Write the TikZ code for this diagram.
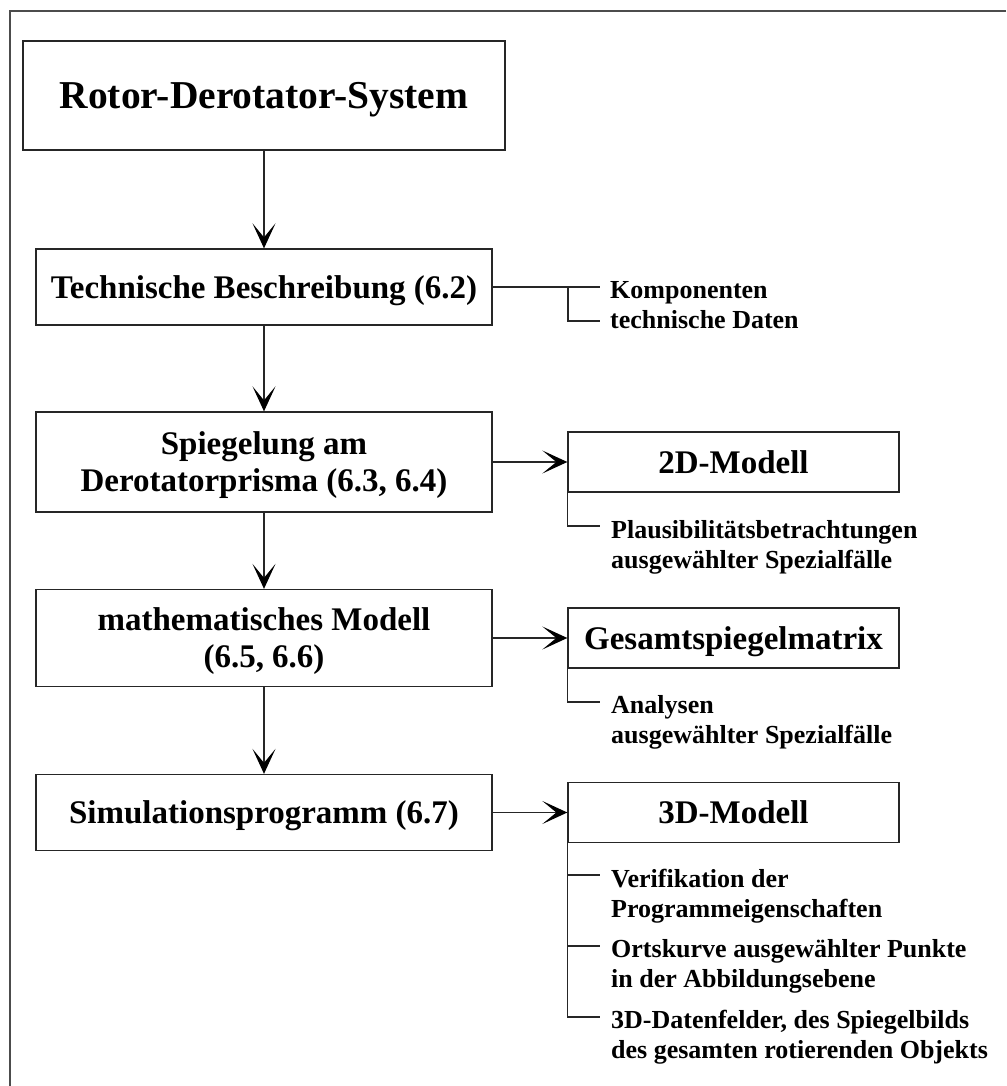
\documentclass[tikz,border=0pt]{standalone}
\usepackage{fontspec}
\setmainfont{Liberation Serif}
\usetikzlibrary{arrows.meta,calc}
\begin{document}
\begin{tikzpicture}[x=1pt,y=-1pt,
  box/.style={draw=black!85, line width=1.3pt, inner sep=0pt, align=center,
              text depth=0pt, font=\fontsize{33}{37}\selectfont\bfseries},
  sidebox/.style={box, minimum width=331pt, minimum height=60pt},
  mainbox/.style={box, minimum width=456pt},
  conn/.style={draw=black!85, line width=1.3pt},
  arr/.style={conn, -{Stealth[length=25pt,width=23pt,inset=14pt,black]}},
  note/.style={anchor=base west, inner sep=0pt,
               font=\fontsize{26}{30}\selectfont\bfseries}
]
\useasboundingbox (0,0) rectangle (1006,1086);

% page frame (top and left rule)
\draw[black!70, line width=1.5pt] (1006,11) -- (10,11) -- (10,1086);

% main chain
\node[box, minimum width=482pt, minimum height=109pt,
      font=\fontsize{39.5}{44}\selectfont\bfseries] (sys) at (264,95.5) {Rotor-Derotator-System};
\node[mainbox, minimum height=76pt] (tech) at (264,287) {Technische Beschreibung (6.2)};
\node[mainbox, minimum height=100pt] (spieg) at (264,462) {Spiegelung am\\Derotatorprisma (6.3, 6.4)};
\node[mainbox, minimum height=97pt] (math) at (264,638) {mathematisches Modell\\(6.5, 6.6)};
\node[mainbox, minimum height=76pt] (sim) at (264,812.5) {Simulationsprogramm (6.7)};

% result boxes
\node[sidebox] (m2d) at (733.5,462) {2D-Modell};
\node[sidebox] (gsm) at (733.5,638) {Gesamtspiegelmatrix};
\node[sidebox] (m3d) at (733.5,812.5) {3D-Modell};

% arrows
\draw[arr] (sys.south) -- (tech.north);
\draw[arr] (tech.south) -- (spieg.north);
\draw[arr] (spieg.south) -- (math.north);
\draw[arr] (math.south) -- (sim.north);
\draw[arr] (spieg.east) -- (m2d.west);
\draw[arr] (math.east) -- (gsm.west);
\draw[arr] (sim.east) -- (m3d.west);

% branch ends
\coordinate (kb) at (568,287);
\coordinate (k1) at (600,287);
\coordinate (k2) at (600,321);
\coordinate (p1) at (600,526);
\coordinate (a1) at (600,702);
\coordinate (v1) at (600,875);
\coordinate (o1) at (600,946);
\coordinate (d1) at (600,1017);

% branch lines
\draw[conn] (tech.east) -- (k1);
\draw[conn] (kb) |- (k2);
\draw[conn] (m2d.south west) |- (p1);
\draw[conn] (gsm.south west) |- (a1);
\draw[conn] (m3d.south west) |- (d1);
\draw[conn] (m3d.south west |- v1) -- (v1);
\draw[conn] (m3d.south west |- o1) -- (o1);

% annotations
\node[note] (komp) at ($(k1)+(10,11)$) {\begin{tabular}[t]{@{}l@{}}Komponenten\\technische Daten\end{tabular}};
\node[note] (plaus) at ($(p1)+(11,12)$) {\begin{tabular}[t]{@{}l@{}}Plausibilitätsbetrachtungen\\ausgewählter Spezialfälle\end{tabular}};
\node[note] (anal) at ($(a1)+(11,11)$) {\begin{tabular}[t]{@{}l@{}}Analysen\\ausgewählter Spezialfälle\end{tabular}};
\node[note] (verif) at ($(v1)+(11,12)$) {\begin{tabular}[t]{@{}l@{}}Verifikation der\\Programmeigenschaften\end{tabular}};
\node[note] (ort) at ($(o1)+(11,11)$) {\begin{tabular}[t]{@{}l@{}}Ortskurve ausgewählter Punkte\\in der Abbildungsebene\end{tabular}};
\node[note] (daten) at ($(d1)+(11,11)$) {\begin{tabular}[t]{@{}l@{}}3D-Datenfelder, des Spiegelbilds\\des gesamten rotierenden Objekts\end{tabular}};
\end{tikzpicture}
\end{document}
